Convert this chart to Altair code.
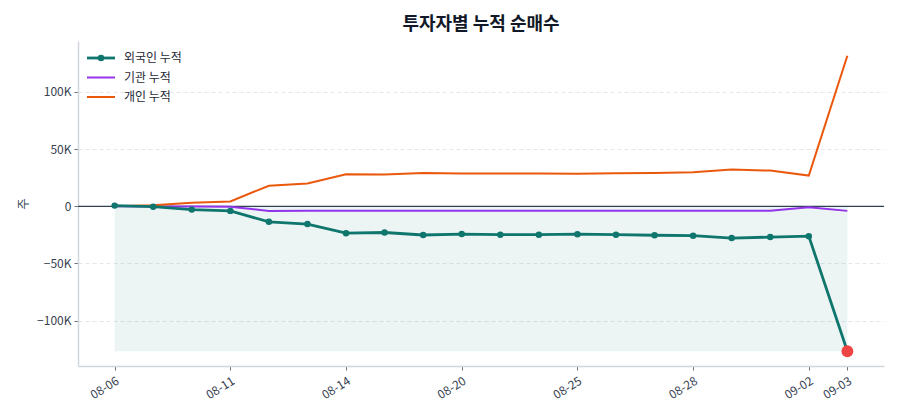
import altair as alt
import pandas as pd

# 거래일 (영업일 기준, 08-15 휴장)
dates = ['08-06', '08-07', '08-08', '08-11', '08-12', '08-13', '08-14', '08-18',
         '08-19', '08-20', '08-21', '08-22', '08-25', '08-26', '08-27', '08-28',
         '08-29', '09-01', '09-02', '09-03']
tick_idx = [0, 3, 6, 9, 12, 15, 18, 19]

# 누적 순매수 (주)
foreign = [600, -300, -2900, -4000, -13600, -15500, -23500, -22900, -25100, -24300,
           -24800, -24800, -24400, -24800, -25300, -25700, -27800, -26900, -26100, -126700]
institution = [0, -100, -200, -300, -4000, -3900, -3900, -3900, -3900, -3800,
               -3800, -3800, -3800, -3800, -3800, -3800, -3900, -3900, -800, -4000]
individual = [0, 900, 3000, 4300, 18000, 20000, 28000, 27700, 29200, 28600,
              28600, 28600, 28400, 28900, 29200, 29800, 32100, 31200, 26900, 131600]

names = ['외국인 누적', '기관 누적', '개인 누적']
colors = ['#0f766e', '#9333ea', '#ea580c']

FONT = 'Noto Sans CJK KR'
idx = list(range(len(dates)))

df = pd.DataFrame({'idx': idx, 'date': dates, '외국인': foreign, '기관': institution, '개인': individual})

lo = min(foreign + institution + individual)
hi = max(foreign + institution + individual)
pad = (hi - lo) * 0.05
n = len(dates) - 1

xs = alt.Scale(domain=[-n * 0.05, n * 1.05], nice=False, zero=False)
ys = alt.Scale(domain=[lo - pad, hi + pad], nice=False, zero=False)

label_arr = '[' + ','.join("'%s'" % d for d in dates) + ']'
x_axis = alt.Axis(values=tick_idx, labelExpr=label_arr + '[datum.value]', labelAngle=-32,
                  grid=False, title=None, labelPadding=5)
y_axis = alt.Axis(values=[-100000, -50000, 0, 50000, 100000],
                  labelExpr="datum.value == 0 ? '0' : format(datum.value / 1000, 'd') + 'K'",
                  grid=True, gridDash=[4, 3], gridColor='#e5e7eb', title='주')


def X(field):
    return alt.X(field, scale=xs, axis=x_axis)


def Y(field):
    return alt.Y(field, scale=ys, axis=y_axis)


# 음영 영역 (0 ~ 외국인 최저점)
area_df = pd.DataFrame({'x0': [0], 'x1': [n], 'y0': [0], 'y1': [min(foreign)]})
area = alt.Chart(area_df).mark_rect(color=colors[0], opacity=0.08).encode(
    x=X('x0:Q'), x2='x1:Q', y=Y('y1:Q'), y2='y0:Q'
)

zero = alt.Chart(area_df).mark_rule(color='#334155', strokeWidth=1.2).encode(y=alt.datum(0))

inst_line = alt.Chart(df).mark_line(color=colors[1], strokeWidth=2).encode(x=X('idx:Q'), y=Y('기관:Q'))
indv_line = alt.Chart(df).mark_line(color=colors[2], strokeWidth=2).encode(x=X('idx:Q'), y=Y('개인:Q'))
frgn_line = alt.Chart(df).mark_line(color=colors[0], strokeWidth=2.8).encode(x=X('idx:Q'), y=Y('외국인:Q'))
frgn_pts = alt.Chart(df.iloc[:-1]).mark_point(filled=True, color=colors[0], size=42, opacity=1).encode(
    x=X('idx:Q'), y=Y('외국인:Q'))
last_pt = alt.Chart(df.iloc[-1:]).mark_point(filled=True, color='#ef4444', size=140, opacity=1).encode(
    x=X('idx:Q'), y=Y('외국인:Q'))

# 범례
one = pd.DataFrame({'k': [0]})
legend_layers = []
for i, (name, c) in enumerate(zip(names, colors)):
    yy = 17 + 19.5 * i
    legend_layers.append(alt.Chart(one).mark_rule(color=c, strokeWidth=2.8 if i == 0 else 2).encode(
        x=alt.value(9), x2=alt.value(37), y=alt.value(yy)))
    legend_layers.append(alt.Chart(pd.DataFrame({'t': [name]})).mark_text(
        align='left', baseline='middle', font=FONT, fontSize=12, color='#1f2937').encode(
        x=alt.value(46), y=alt.value(yy), text='t:N'))
legend_layers.append(alt.Chart(one).mark_point(filled=True, color=colors[0], size=42, opacity=1).encode(
    x=alt.value(23), y=alt.value(17)))

chart = alt.layer(
    area, zero, inst_line, indv_line, frgn_line, frgn_pts, last_pt, *legend_layers
).properties(
    width=806,
    height=325,
    title=alt.TitleParams('투자자별 누적 순매수', font=FONT, fontSize=18, fontWeight='bold',
                          color='#111827', anchor='middle', offset=7),
    autosize=alt.AutoSizeParams(type='none'),
    padding={'left': 70, 'top': 33, 'right': 8, 'bottom': 46},
).configure_view(
    stroke=None
).configure_axis(
    labelFont=FONT, titleFont=FONT, labelFontSize=12, labelColor='#374151',
    titleFontSize=12, titleColor='#374151', titleFontWeight='normal',
    domainColor='#d1d5db', domainWidth=1.5, tickColor='#6b7280', tickSize=4,
    labelPadding=3
).configure_axisY(
    titlePadding=6
)

chart.save('out.html', embed_options={'renderer': 'svg', 'actions': False})
